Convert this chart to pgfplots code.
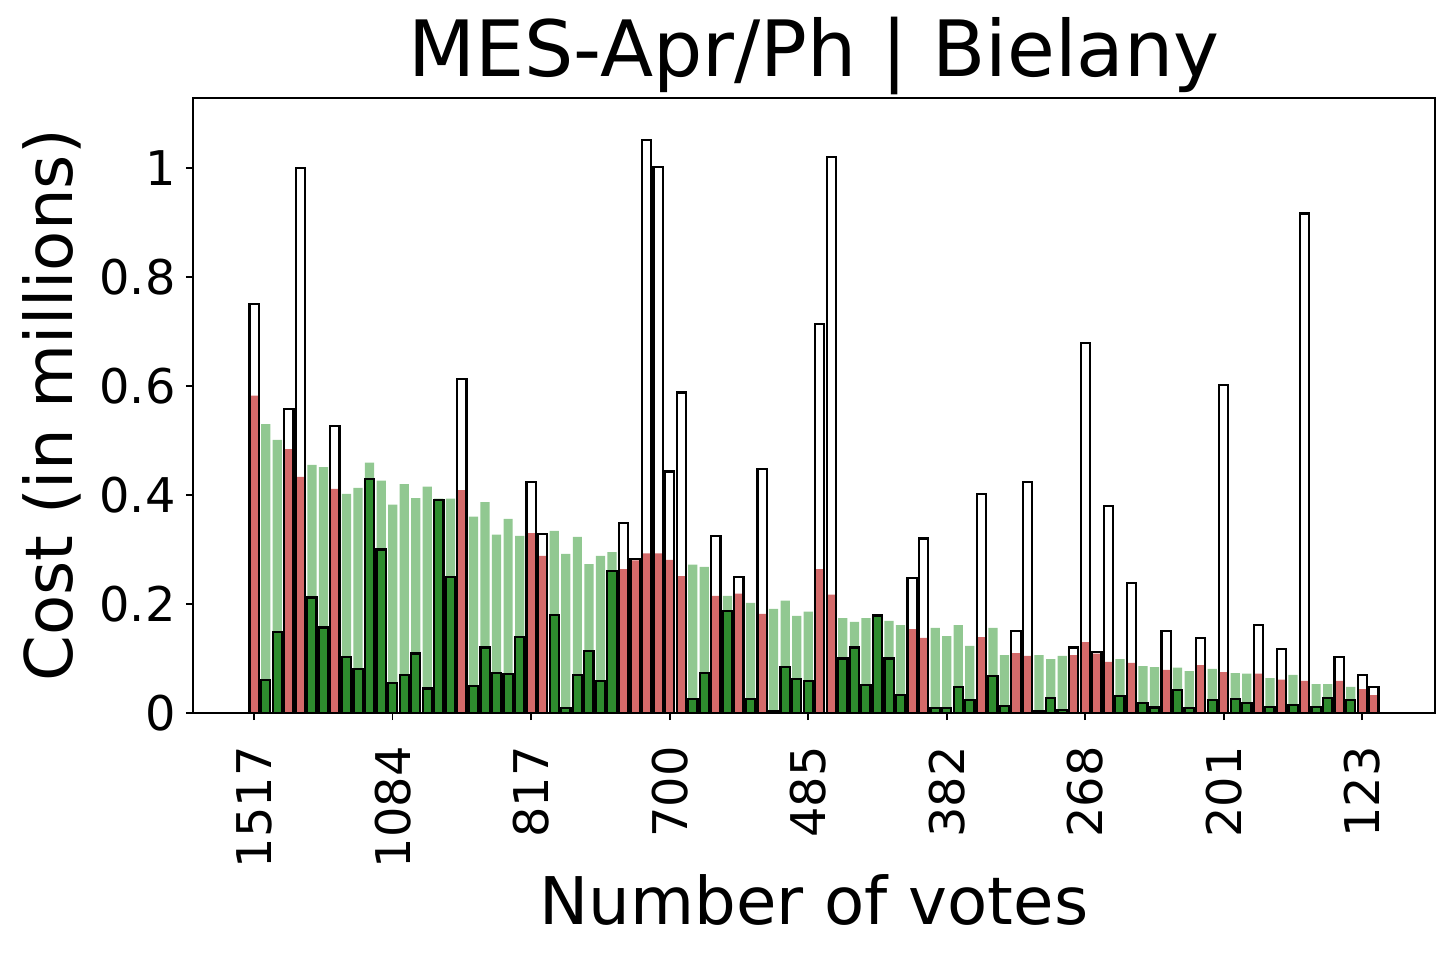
\documentclass[border=0pt]{standalone}
\usepackage{fontspec}
\setmainfont{DejaVu Sans}
\usepackage{pgfplots}
\usepackage{pgfplotstable}
\pgfplotsset{compat=1.18}

\definecolor{redbar}{RGB}{212,106,106}
\definecolor{lightgreen}{RGB}{145,200,145}
\definecolor{darkgreen}{RGB}{46,140,46}

% funded projects: position, cost, red part
\pgfplotstableread{
pos cost part
0 0.750 0.582
3 0.558 0.484
4 1.000 0.433
7 0.527 0.411
18 0.612 0.409
24 0.423 0.330
25 0.328 0.288
32 0.349 0.264
33 0.283 0.280
34 1.051 0.293
35 1.001 0.293
36 0.443 0.281
37 0.588 0.251
40 0.324 0.215
42 0.249 0.219
44 0.448 0.182
49 0.713 0.264
50 1.020 0.217
57 0.248 0.154
58 0.320 0.138
63 0.402 0.139
66 0.150 0.110
67 0.424 0.105
71 0.120 0.106
72 0.678 0.130
73 0.112 0.109
74 0.380 0.094
76 0.239 0.092
79 0.150 0.079
82 0.138 0.088
84 0.601 0.075
87 0.162 0.072
89 0.118 0.061
91 0.916 0.059
94 0.102 0.059
96 0.070 0.044
97 0.048 0.033
}\funded

% other projects: position, light bar, dark bar
\pgfplotstableread{
pos light dark
1 0.530 0.061
2 0.501 0.149
5 0.455 0.212
6 0.451 0.157
8 0.402 0.102
9 0.413 0.080
10 0.459 0.429
11 0.426 0.300
12 0.382 0.055
13 0.420 0.069
14 0.394 0.109
15 0.415 0.045
16 0.393 0.390
17 0.393 0.250
19 0.360 0.050
20 0.387 0.120
21 0.327 0.073
22 0.356 0.072
23 0.325 0.139
26 0.334 0.180
27 0.292 0.009
28 0.323 0.070
29 0.273 0.113
30 0.288 0.059
31 0.295 0.261
38 0.272 0.026
39 0.268 0.073
41 0.215 0.187
43 0.202 0.026
45 0.191 0.003
46 0.206 0.084
47 0.178 0.063
48 0.186 0.058
51 0.174 0.100
52 0.167 0.120
53 0.174 0.051
54 0.176 0.179
55 0.169 0.100
56 0.161 0.033
59 0.156 0.009
60 0.141 0.009
61 0.161 0.048
62 0.123 0.024
64 0.156 0.068
65 0.106 0.013
68 0.106 0.004
69 0.099 0.028
70 0.105 0.005
75 0.099 0.031
77 0.086 0.018
78 0.084 0.010
80 0.083 0.042
81 0.077 0.009
83 0.081 0.024
85 0.073 0.026
86 0.072 0.018
88 0.064 0.011
90 0.070 0.015
92 0.053 0.011
93 0.053 0.028
95 0.048 0.024
}\others

\begin{document}
\begin{tikzpicture}
\path[use as bounding box] (-96.5bp,-121.5bp) rectangle (630.5bp,356.5bp);
\begin{axis}[
    scale only axis,
    width=621bp, height=307.5bp,
    xmin=-5.3, xmax=102.3,
    ymin=0, ymax=1.128,
    axis line style={line width=0.8bp},
    xtick={0,12,...,96},
    xticklabels={1517,1084,817,700,485,382,268,201,123},
    ytick={0,0.2,0.4,0.6,0.8,1},
    yticklabels={0,0.2,0.4,0.6,0.8,1},
    xtick pos=bottom, ytick pos=left,
    tick align=outside,
    major tick length=3.5bp,
    tick style={line width=0.8bp, black},
    ticklabel style={font=\fontsize{24}{24}\selectfont},
    xticklabel style={rotate=90, anchor=east, inner sep=0pt},
    xticklabel shift=13bp,
    yticklabel style={anchor=east, inner sep=0pt},
    yticklabel shift=5bp,
    title={MES-Apr/Ph | Bielany},
    title style={font=\fontsize{39}{39}\selectfont, at={(0.5,1.015)}, anchor=base},
    xlabel={Number of votes},
    xlabel style={font=\fontsize{33}{33}\selectfont, at={(0.5,-0.3447)}, anchor=base},
    ylabel={Cost (in millions)},
    ylabel style={font=\fontsize{33}{33}\selectfont, at={(-0.0974,0.5)}, anchor=base},
    bar width=0.8,
]
    \addplot[ybar, bar shift=0pt, fill=redbar, draw=none] table[x=pos, y=part] {\funded};
    \addplot[ybar, bar shift=0pt, fill=none, draw=black, line width=1.1bp] table[x=pos, y=cost] {\funded};
    \addplot[ybar, bar shift=0pt, fill=lightgreen, draw=none] table[x=pos, y=light] {\others};
    \addplot[ybar, bar shift=0pt, fill=darkgreen, draw=black, line width=1.1bp] table[x=pos, y=dark] {\others};
\end{axis}
\end{tikzpicture}
\end{document}
